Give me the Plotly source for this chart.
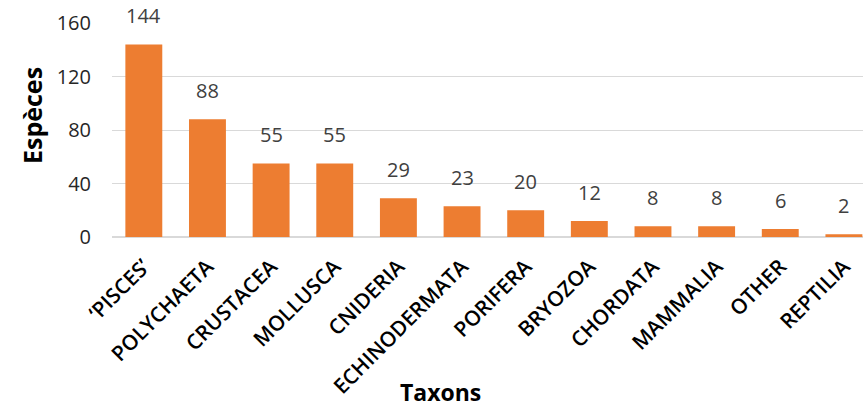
import plotly.graph_objects as go

categories = ["‘PISCES’", "POLYCHAETA", "CRUSTACEA", "MOLLUSCA", "CNIDERIA", "ECHINODERMATA",
              "PORIFERA", "BRYOZOA", "CHORDATA", "MAMMALIA", "OTHER", "REPTILIA"]
values = [144, 88, 55, 55, 29, 23, 20, 12, 8, 8, 6, 2]
y_ticks = [0, 40, 80, 120, 160]

FONT = "Open Sans"
fig = go.Figure()
fig.add_trace(go.Bar(x=categories, y=values, marker_color="#ED7D31", marker_line_width=0,
                     hoverinfo="x+y"))

for c, v in zip(categories, values):
    fig.add_annotation(x=c, y=v, text=str(v), showarrow=False, yanchor="bottom", yshift=13,
                       font=dict(family=FONT, size=20, color="#404040"))

fig.add_annotation(xref="paper", yref="paper", x=(32 - 112) / 751, y=(237 - 116) / 214,
                   text="<b>Espèces</b>", textangle=-90, showarrow=False,
                   xanchor="center", yanchor="middle",
                   font=dict(family=FONT, size=25, color="#000000"))
fig.add_annotation(xref="paper", yref="paper", x=(440 - 112) / 751, y=-(392 - 237) / 214,
                   text="<b>Taxons</b>", showarrow=False, xanchor="center", yanchor="middle",
                   font=dict(family=FONT, size=23, color="#000000"))

fig.update_layout(
    width=863, height=408,
    margin=dict(l=112, r=0, t=23, b=171, autoexpand=False),
    plot_bgcolor="white", paper_bgcolor="white",
    bargap=0.42, showlegend=False,
    xaxis=dict(range=[-0.5, 11.3], tickangle=-45, showgrid=False, showline=True,
               linecolor="#d9d9d9", linewidth=1, ticks="", automargin=False,
               ticklabelstandoff=8,
               tickfont=dict(family=FONT, size=21, color="#000000", weight=600)),
    yaxis=dict(range=[0, 160], tickvals=y_ticks, showgrid=True, gridcolor="#d9d9d9", gridwidth=1,
               zeroline=True, zerolinecolor="#d9d9d9", showline=False, ticks="",
               ticklabelstandoff=20, automargin=False,
               tickfont=dict(family=FONT, size=20, color="#262626")),
)

fig.write_html("out.html", config={"displayModeBar": False},
               post_script="document.body.style.margin='0px';")
